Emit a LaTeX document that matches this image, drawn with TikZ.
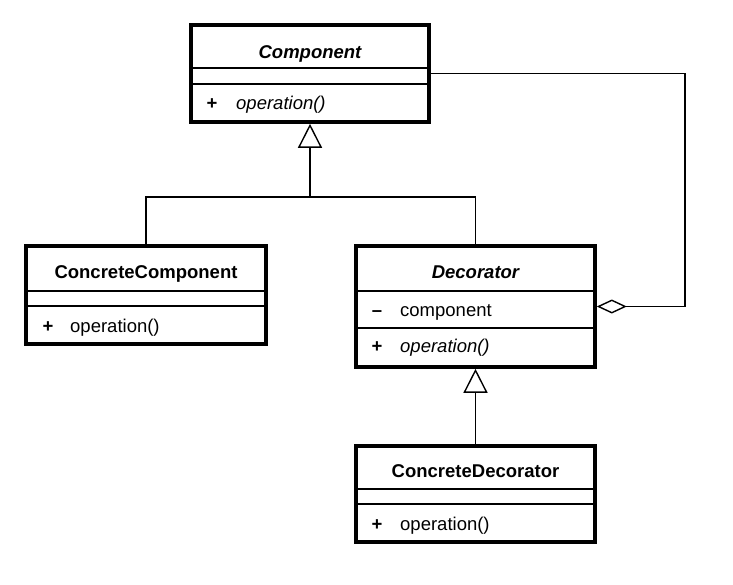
\documentclass[tikz,border=0pt]{standalone}
\usepackage{fontspec}
\setmainfont{Liberation Sans}
\usetikzlibrary{arrows.meta}
\begin{document}
\begin{tikzpicture}[x=1pt,y=-1pt,
  classbox/.style={draw, line width=3.6pt, rectangle, inner sep=0pt},
  sep/.style={line width=1.5pt},
  conn/.style={line width=1.4pt},
  title/.style={anchor=base, inner sep=0pt, font=\fontsize{18.5}{22}\selectfont\bfseries},
  atitle/.style={title, font=\fontsize{18.5}{22}\selectfont\bfseries\itshape},
  sign/.style={anchor=base, inner sep=0pt, font=\fontsize{18.5}{22}\selectfont\bfseries},
  member/.style={anchor=base west, inner sep=0pt, font=\fontsize{18.5}{22}\selectfont},
  amember/.style={member, font=\fontsize{18.5}{22}\selectfont\itshape},
  inherit/.style={conn, -{Triangle[open, length=24pt, width=24pt, line width=1.4pt]}},
  aggreg/.style={conn, -{Diamond[open, length=30pt, width=14pt, line width=1.4pt]}}
]
\useasboundingbox (0,0) rectangle (733,585);
\fill[white] (0,0) rectangle (733,585);

% Component
\node[classbox, minimum width=238pt, minimum height=97pt] (comp) at (310,73.5) {};
\draw[sep] (comp.west |- 0,68) -- (comp.east |- 0,68);
\draw[sep] (comp.west |- 0,84) -- (comp.east |- 0,84);
\node[atitle] (compt) at (310,58.5) {Component};
\node[sign] (comps) at (212,109.5) {+};
\node[amember] (compo) at (236,109.5) {operation()};

% ConcreteComponent
\node[classbox, minimum width=240pt, minimum height=98pt] (ccomp) at (146,295) {};
\draw[sep] (ccomp.west |- 0,291) -- (ccomp.east |- 0,291);
\draw[sep] (ccomp.west |- 0,306) -- (ccomp.east |- 0,306);
\node[title] (ccompt) at (146,278.5) {ConcreteComponent};
\node[sign] (ccomps) at (48,332.5) {+};
\node[member] (ccompo) at (70,332.5) {operation()};

% Decorator
\node[classbox, minimum width=239pt, minimum height=121pt] (dec) at (475.5,306.5) {};
\draw[sep] (dec.west |- 0,291) -- (dec.east |- 0,291);
\draw[sep] (dec.west |- 0,328) -- (dec.east |- 0,328);
\node[atitle] (dect) at (475.5,278.5) {Decorator};
\node[sign] (decs1) at (377,316) {–};
\node[member] (decm) at (400,316) {component};
\node[sign] (decs2) at (377,352.7) {+};
\node[amember] (deco) at (400,352.7) {operation()};

% ConcreteDecorator
\node[classbox, minimum width=239pt, minimum height=96pt] (cdec) at (475.5,494) {};
\draw[sep] (cdec.west |- 0,489) -- (cdec.east |- 0,489);
\draw[sep] (cdec.west |- 0,504) -- (cdec.east |- 0,504);
\node[title] (cdect) at (475.5,477.5) {ConcreteDecorator};
\node[sign] (cdecs) at (377,530) {+};
\node[member] (cdeco) at (400,530) {operation()};

% Connectors
\coordinate (j) at (310,197);
\coordinate (agg) at (685,0);
\draw[conn] (ccomp.north) |- (j);
\draw[conn] (dec.north) |- (j);
\draw[inherit] (j) -- (comp.south);
\draw[inherit] (cdec.north) -- (dec.south);
\draw[aggreg] (comp.east) -| (dec.east -| agg) -- (dec.east);
\end{tikzpicture}
\end{document}
